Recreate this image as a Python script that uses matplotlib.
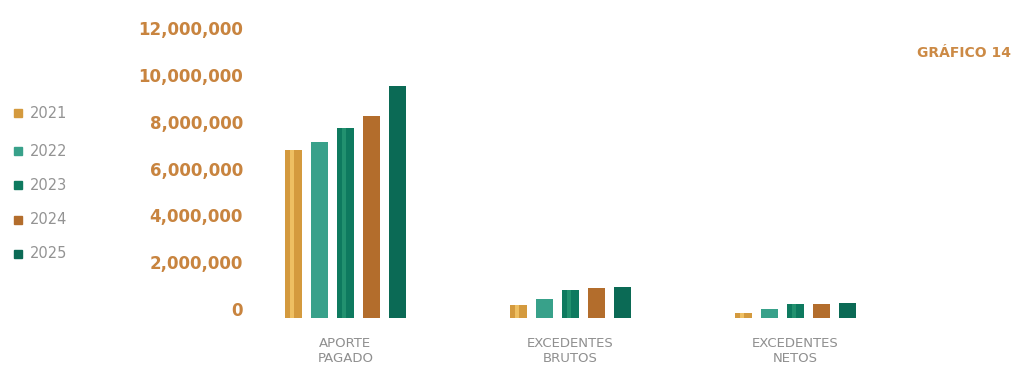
import matplotlib
matplotlib.use("Agg")
import matplotlib.pyplot as plt
from matplotlib.transforms import ScaledTranslation
from matplotlib.patches import Rectangle
import numpy as np

# ---- data ----
categories = ["APORTE\nPAGADO", "EXCEDENTES\nBRUTOS", "EXCEDENTES\nNETOS"]
years = ["2021", "2022", "2023", "2024", "2025"]
v2021 = [7_200_000, 560_000, 230_000]
v2022 = [7_500_000, 800_000, 370_000]
v2023 = [8_100_000, 1_200_000, 590_000]
v2024 = [8_650_000, 1_300_000, 590_000]
v2025 = [9_900_000, 1_340_000, 620_000]
series = [v2021, v2022, v2023, v2024, v2025]
yticks = [0, 2_000_000, 4_000_000, 6_000_000, 8_000_000, 10_000_000, 12_000_000]
title = "GRÁFICO 14"

colors = ["#d49a3e", "#38a18a", "#0e7a5f", "#b36d2c", "#0b6a55"]
highlights = ["#eebf62", None, "#22916f", None, None]

W, H = 1017, 367
fig = plt.figure(figsize=(W / 100, H / 100), dpi=100)
fig.patch.set_facecolor("white")

left_px, right_px, bottom_px, top_px = 257, 1002, 318, 18
ax = fig.add_axes([left_px / W, 1 - bottom_px / H, (right_px - left_px) / W, (bottom_px - top_px) / H])
ax.set_facecolor("none")

x = np.arange(len(categories))
step = 0.1156
width = 0.078
for i, (vals, c, hl, yr) in enumerate(zip(series, colors, highlights, years)):
    pos = x + (i - 2) * step
    ax.bar(pos, vals, width=width, color=c, label=yr, zorder=2)
    if hl is not None:
        ax.bar(pos - width * 0.08, vals, width=width * 0.22, color=hl, zorder=3)

ax.set_xlim(-0.393, 2.918)
ax.set_ylim(0, 12_820_000)

for s in ax.spines.values():
    s.set_visible(False)

ax.set_yticks(yticks)
ax.set_yticklabels([f"{t:,}" for t in yticks])
ax.tick_params(axis="y", length=0, pad=10, labelsize=12, labelcolor="#c8843f")
off = ScaledTranslation(0, 9 / 100, fig.dpi_scale_trans)
for lab in ax.get_yticklabels():
    lab.set_fontweight("bold")
    lab.set_transform(lab.get_transform() + off)

ax.set_xticks(x)
ax.set_xticklabels(categories, linespacing=1.2)
ax.tick_params(axis="x", length=0, pad=14, labelsize=9.5, labelcolor="#8f8f8f")

# legend (left side)
leg_y = [113, 151, 185, 220, 254]
for yr, c, yy in zip(years, colors, leg_y):
    fig.patches.append(Rectangle((14 / W, 1 - (yy + 4) / H), 8 / W, 8 / H,
                                 transform=fig.transFigure, color=c, figure=fig))
    fig.text(30 / W, 1 - yy / H, yr, fontsize=10.5, color="#939393", va="center", ha="left")

fig.text(917 / W, 1 - 53 / H, title, fontsize=10, fontweight="bold", color="#cc8a45",
         va="center", ha="left")

fig.savefig("out.png", dpi=100, facecolor="white")
